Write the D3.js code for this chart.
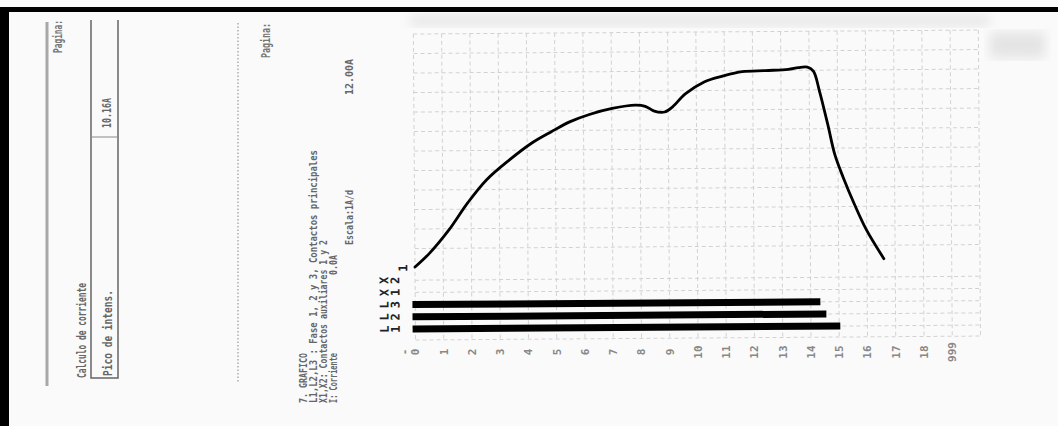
<!DOCTYPE html>
<html>
<head>
<meta charset="utf-8">
<script src="https://cdn.jsdelivr.net/npm/d3@7"></script>
<style>
  html, body { margin: 0; padding: 0; background: #fafafa; overflow: hidden; }
  svg { display: block; }
  text { font-family: "DejaVu Sans Mono", "Liberation Mono", monospace; }
</style>
</head>
<body>
<svg id="chart" width="1058" height="426"></svg>
<script>
// ---- data -------------------------------------------------------------
// time axis (divisions) and the labels printed under it
const tickValues = [-0.4, 0, 1, 2, 3, 4, 5, 6, 7, 8, 9, 10, 11, 12, 13, 14, 15, 16, 17, 18, 19];
const tickLabels = ["-", "0", "1", "2", "3", "4", "5", "6", "7", "8", "9", "10", "11", "12", "13", "14", "15", "16", "17", "18", "999"];

// current trace I(t): time in divisions, current in amperes
const currentTime = [0, 0.53, 1.21, 1.88, 2.55, 3.37, 4.18, 4.86, 5.53, 6.21, 7.02, 7.84, 8.19, 8.51, 8.87, 9.15, 9.61, 10.28, 10.96, 11.63, 12.45, 13.26, 13.62, 13.94, 14.15, 14.36, 14.65, 14.89, 15.18, 15.57, 15.99, 16.6];
const currentAmps = [0.05, 0.77, 1.94, 3.32, 4.49, 5.51, 6.38, 6.94, 7.45, 7.81, 8.11, 8.27, 8.21, 7.96, 7.91, 8.16, 8.83, 9.44, 9.74, 9.95, 10.0, 10.05, 10.14, 10.16, 9.95, 8.93, 7.19, 5.66, 4.49, 3.11, 1.79, 0.31];

// chart rows (top to bottom) and contact closing intervals
const rowNames = ["I", "X2", "X1", "L3", "L2", "L1"];
const contactNames = ["L3", "L2", "L1"];
const contactStart = [-0.1, -0.1, -0.1];
const contactEnd = [14.34, 14.55, 15.04];

// ---- drawing ----------------------------------------------------------
const svg = d3.select("#chart");
const ink = "#666";

const defs = svg.append("defs");
defs.append("filter").attr("id", "soft").append("feGaussianBlur").attr("stdDeviation", 6);

// page background and scanner shading
svg.append("rect").attr("width", 1058).attr("height", 426).attr("fill", "#fafafa");
svg.append("rect").attr("x", 410).attr("y", 15).attr("width", 580).attr("height", 11)
  .attr("fill", "#e6e6e6").attr("filter", "url(#soft)");
svg.append("rect").attr("x", 990).attr("y", 32).attr("width", 55).attr("height", 26)
  .attr("fill", "#e4e4e4").attr("filter", "url(#soft)");

// frame edges of the scan
svg.append("rect").attr("x", 0).attr("y", 7).attr("width", 1058).attr("height", 5).attr("fill", "#000");
svg.append("rect").attr("x", 0).attr("y", 7).attr("width", 9).attr("height", 419).attr("fill", "#000");

// rotated text helper (reads bottom to top)
function vtext(str, x, y, len, size, color) {
  return svg.append("text")
    .attr("transform", `translate(${x},${y}) rotate(-90)`)
    .attr("font-size", size)
    .attr("font-weight", "bold")
    .attr("fill", color || ink)
    .attr("textLength", len)
    .attr("lengthAdjust", "spacingAndGlyphs")
    .text(str);
}

// left form: current calculation panel
svg.append("line").attr("x1", 47).attr("x2", 47).attr("y1", 22).attr("y2", 386)
  .attr("stroke", "#a8a8a8").attr("stroke-width", 3);
vtext("Pagina:", 62, 53, 33, 12, "#777");
vtext("Calculo de corriente", 86, 378, 95, 12);
svg.append("path").attr("d", "M91,20 V378 H118 V20").attr("fill", "none")
  .attr("stroke", "#666").attr("stroke-width", 1.5);
svg.append("line").attr("x1", 91).attr("x2", 118).attr("y1", 137).attr("y2", 137)
  .attr("stroke", "#888").attr("stroke-width", 1);
vtext("Pico de intens.", 112, 376, 86, 12);
vtext("10.16A", 111, 128, 30, 12);

// dotted separator and second page header
svg.append("line").attr("x1", 238).attr("x2", 238).attr("y1", 23).attr("y2", 383)
  .attr("stroke", "#999").attr("stroke-width", 1.2).attr("stroke-dasharray", "1.5 2");
vtext("Pagina:", 270, 58, 35, 12, "#777");

// legend block
vtext("7. GRAFICO", 307, 403, 50, 11);
vtext("L1,L2,L3 : Fase 1, 2 y 3, Contactos principales", 317, 403, 253, 11);
vtext("X1,X2: Contactos auxiliares 1 y 2", 327, 403, 163, 11);
vtext("I: Corriente", 337, 403, 50, 11);
vtext("0.0A", 337, 275, 20, 11);
vtext("Escala:1A/d", 353, 245, 55, 11);
vtext("12.00A", 353, 95, 36, 11);

// ---- plot ------------------------------------------------------------
const x = d3.scaleLinear().domain([0, 20]).range([415, 980]);
const y = d3.scaleLinear().domain([0, 12]).range([268, 34]);
const row = d3.scalePoint().domain(rowNames).range([268, 329]);

const plot = svg.append("g").attr("transform", `rotate(-0.4, ${x(0)}, ${y(0)})`);

// dashed grid
const gridColor = "#d2d2d2";
const gridDash = "4 3";
plot.append("g").selectAll("line").data(d3.range(0, 21)).join("line")
  .attr("x1", d => x(d)).attr("x2", d => x(d))
  .attr("y1", y(12)).attr("y2", 340)
  .attr("stroke", gridColor).attr("stroke-dasharray", gridDash);
plot.append("g").selectAll("line").data(d3.range(1, 13)).join("line")
  .attr("x1", x(0)).attr("x2", x(20))
  .attr("y1", d => y(d)).attr("y2", d => y(d))
  .attr("stroke", gridColor).attr("stroke-dasharray", gridDash);
plot.append("g").selectAll("line").data(rowNames.slice(1).concat(["end"])).join("line")
  .attr("x1", x(0)).attr("x2", x(20))
  .attr("y1", d => d === "end" ? 340 : row(d)).attr("y2", d => d === "end" ? 340 : row(d))
  .attr("stroke", gridColor).attr("stroke-dasharray", gridDash);

// contact bars
plot.append("g").selectAll("rect").data(contactNames).join("rect")
  .attr("x", (d, i) => x(contactStart[i]))
  .attr("width", (d, i) => x(contactEnd[i]) - x(contactStart[i]))
  .attr("y", d => row(d) - 3.5)
  .attr("height", 7)
  .attr("fill", "#000");

// current trace
const pts = currentTime.map((t, i) => [x(t), y(currentAmps[i])]);
plot.append("path").attr("d", d3.line().curve(d3.curveCatmullRom.alpha(0.5))(pts))
  .attr("fill", "none").attr("stroke", "#000").attr("stroke-width", 2.8)
  .attr("stroke-linecap", "round").attr("stroke-linejoin", "round");

// row labels: letter and index printed as two rotated glyphs
function glyph(ch, gx, gy) {
  plot.append("text").attr("transform", `translate(${gx},${gy}) rotate(-90)`)
    .attr("text-anchor", "middle").attr("dy", "0.35em")
    .attr("font-size", 12).attr("font-weight", "bold").attr("fill", "#222").text(ch);
}
rowNames.forEach(r => {
  const yy = row(r);
  if (r === "I") {
    glyph("1", 403, yy);
  } else {
    glyph(r[0], 384, yy);
    glyph(r[1], 395, yy);
  }
});

// time axis
const axis = d3.axisBottom(x).tickValues(tickValues)
  .tickFormat((d, i) => tickLabels[i]).tickSize(0);
const ag = svg.append("g").attr("transform", "translate(0,352)").call(axis);
ag.select(".domain").remove();
ag.selectAll("text")
  .attr("y", 0).attr("dy", "0.35em")
  .attr("transform", "rotate(-90)")
  .attr("text-anchor", "middle")
  .attr("font-family", "DejaVu Sans Mono, monospace")
  .attr("font-weight", "bold")
  .attr("font-size", 11).attr("fill", "#888");
</script>
</body>
</html>
